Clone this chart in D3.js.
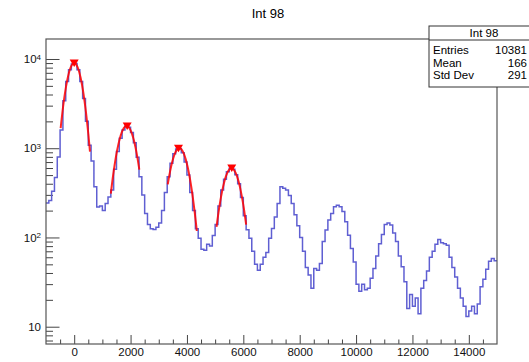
<!DOCTYPE html>
<html>
<head>
<meta charset="utf-8">
<script src="https://cdn.jsdelivr.net/npm/d3@7"></script>
<style>
  body { margin: 0; background: #fff; }
  svg { display: block; font-family: "Liberation Sans", Arial, sans-serif; }
  .axis path { display: none; }
  .axis line { stroke: #444; }
  .axis text { font-size: 11.5px; fill: #111; }
</style>
</head>
<body>
<div id="chart"></div>
<script>
// histogram: 160 bins from -1000 to 15000
const xRange = [-1000, 15000];
const binWidth = 100;
const counts = [
  243, 260, 330, 470, 800, 1600, 3400, 5600, 7600, 8800,
  8900, 7600, 5600, 3600, 2000, 1080, 720, 370, 220, 225,
  200, 240, 285, 340, 580, 920, 1290, 1600, 1760, 1720,
  1500, 1150, 790, 480, 300, 185, 140, 125, 123, 130,
  145, 200, 320, 480, 680, 870, 980, 990, 890, 700,
  500, 320, 200, 125, 98, 74, 72, 84, 80, 105,
  140, 225, 340, 450, 545, 595, 580, 505, 400, 280,
  175, 122, 98, 70, 50, 43, 50, 60, 68, 98,
  126, 170, 240, 370, 355, 340, 295, 240, 180, 135,
  100, 70, 46, 38, 27, 45, 43, 51, 90, 121,
  157, 186, 221, 230, 221, 195, 150, 106, 75, 53,
  30, 25, 30, 26, 27, 35, 45, 62, 85, 108,
  140, 145, 138, 112, 90, 62, 47, 32, 16, 23,
  17, 21, 14, 27, 33, 42, 60, 70, 84, 95,
  87, 85, 82, 60, 46, 36, 27, 21, 17, 13,
  15, 17, 14, 18, 28, 34, 44, 54, 58, 55
];

// gaussian fits on the first four peaks
const fitConst = [9000, 1775, 1000, 596];
const fitMean = [0, 1860, 3730, 5580];
const fitSigma = [262, 300, 300, 305];
const fitLo = [-480, 1300, 3320, 5050];
const fitHi = [560, 2310, 4350, 6100];

// peak markers
const peakX = [0, 1880, 3700, 5590];
const peakY = [9000, 1780, 1000, 600];

const xMajor = [0, 2000, 4000, 6000, 8000, 10000, 12000, 14000];
const yMajor = [10, 100, 1000, 10000];
const yDomain = [6.4, 16750];

const statTitle = "Int 98";
const statNames = ["Entries", "Mean", "Std Dev"];
const statValues = ["10381", "166", "291"];

function drawHist(container) {
    const W = 529, H = 362;
    const frame = {left: 46, right: 497, top: 39, bottom: 344};

    const svg = d3.select(container)
        .append("svg")
        .attr("width", W)
        .attr("height", H);

    const xScale = d3.scaleLinear()
        .domain(xRange)
        .range([frame.left, frame.right]);
    const yScale = d3.scaleLog()
        .domain(yDomain)
        .range([frame.bottom, frame.top]);

    // title
    svg.append("text")
        .attr("x", 268)
        .attr("y", 18)
        .attr("text-anchor", "middle")
        .style("font-size", "13px")
        .text(statTitle);

    // x axis, ticks pointing into the frame
    const xMinor = d3.range(xRange[0] + 500, xRange[1], 500).filter(v => v % 2000 !== 0);
    svg.append("g")
        .attr("class", "axis")
        .attr("transform", `translate(0,${frame.bottom})`)
        .call(d3.axisBottom(xScale).tickValues(xMinor).tickSize(-4.5).tickFormat(""));
    svg.append("g")
        .attr("class", "axis")
        .attr("transform", `translate(0,${frame.bottom})`)
        .call(d3.axisBottom(xScale).tickValues(xMajor).tickSize(-9).tickPadding(4).tickFormat(d3.format("d")));

    // y axis, log
    const yMinor = [];
    [1, 10, 100, 1000].forEach(dec => {
        for (let m = 2; m <= 9; m++) {
            const v = dec * m;
            if (v > yDomain[0] && v < yDomain[1]) yMinor.push(v);
        }
    });
    svg.append("g")
        .attr("class", "axis")
        .attr("transform", `translate(${frame.left},0)`)
        .call(d3.axisLeft(yScale).tickValues(yMinor).tickSize(-7).tickFormat(""));
    const yAx = svg.append("g")
        .attr("class", "axis")
        .attr("transform", `translate(${frame.left},0)`)
        .call(d3.axisLeft(yScale).tickValues(yMajor).tickSize(-13.5).tickPadding(5).tickFormat(""));
    yAx.selectAll(".tick text").each(function(d) {
        const t = d3.select(this);
        const e = Math.round(Math.log10(d));
        t.append("tspan").text("10");
        if (e > 1) {
            t.append("tspan")
                .attr("dy", "-0.45em")
                .style("font-size", "8px")
                .text(e);
        }
    });

    // histogram as steps
    const pts = counts.map((c, i) => [xRange[0] + i * binWidth, c]);
    pts.push([xRange[1], counts[counts.length - 1]]);
    const step = d3.line()
        .x(d => xScale(d[0]))
        .y(d => yScale(d[1]))
        .curve(d3.curveStepAfter);
    svg.append("path")
        .datum(pts)
        .attr("fill", "none")
        .attr("stroke", "#5f5fd2")
        .attr("stroke-width", 1.5)
        .attr("d", step);

    // fit curves
    const smooth = d3.line()
        .x(d => xScale(d[0]))
        .y(d => yScale(d[1]));
    fitConst.forEach((A, k) => {
        const n = 60;
        const curve = d3.range(n + 1).map(j => {
            const xv = fitLo[k] + (fitHi[k] - fitLo[k]) * j / n;
            const z = (xv - fitMean[k]) / fitSigma[k];
            return [xv, A * Math.exp(-0.5 * z * z)];
        });
        svg.append("path")
            .datum(curve)
            .attr("fill", "none")
            .attr("stroke", "#ff0000")
            .attr("stroke-opacity", 0.85)
            .attr("stroke-width", 2)
            .attr("d", smooth);
    });

    // peak markers (triangle down)
    svg.selectAll(".peak")
        .data(peakX)
        .enter()
        .append("path")
        .attr("class", "peak")
        .attr("transform", (d, i) => `translate(${xScale(d)},${yScale(peakY[i])})`)
        .attr("d", "M-4.5,-3.5L4.5,-3.5L0,4Z")
        .attr("fill", "#ff0000");

    // frame
    svg.append("rect")
        .attr("x", frame.left)
        .attr("y", frame.top)
        .attr("width", frame.right - frame.left)
        .attr("height", frame.bottom - frame.top)
        .attr("fill", "none")
        .attr("stroke", "#555")
        .attr("stroke-width", 1.2);

    // stats box (runs past the right edge of the page)
    const box = {x: 429, y: 26, w: 112, h: 61};
    const sb = svg.append("g");
    sb.append("rect")
        .attr("x", box.x).attr("y", box.y)
        .attr("width", box.w).attr("height", box.h)
        .attr("fill", "#fff")
        .attr("stroke", "#333");
    sb.append("line")
        .attr("x1", box.x).attr("x2", box.x + box.w)
        .attr("y1", box.y + 14).attr("y2", box.y + 14)
        .attr("stroke", "#333");
    sb.append("text")
        .attr("x", 484).attr("y", box.y + 11)
        .attr("text-anchor", "middle")
        .style("font-size", "11.5px")
        .text(statTitle);
    statNames.forEach((name, i) => {
        const ty = box.y + 28 + i * 12.5;
        sb.append("text")
            .attr("x", box.x + 4).attr("y", ty)
            .style("font-size", "11.5px")
            .text(name);
        sb.append("text")
            .attr("x", 527).attr("y", ty)
            .attr("text-anchor", "end")
            .style("font-size", "11.5px")
            .text(statValues[i]);
    });
}

drawHist("#chart");
</script>
</body>
</html>
